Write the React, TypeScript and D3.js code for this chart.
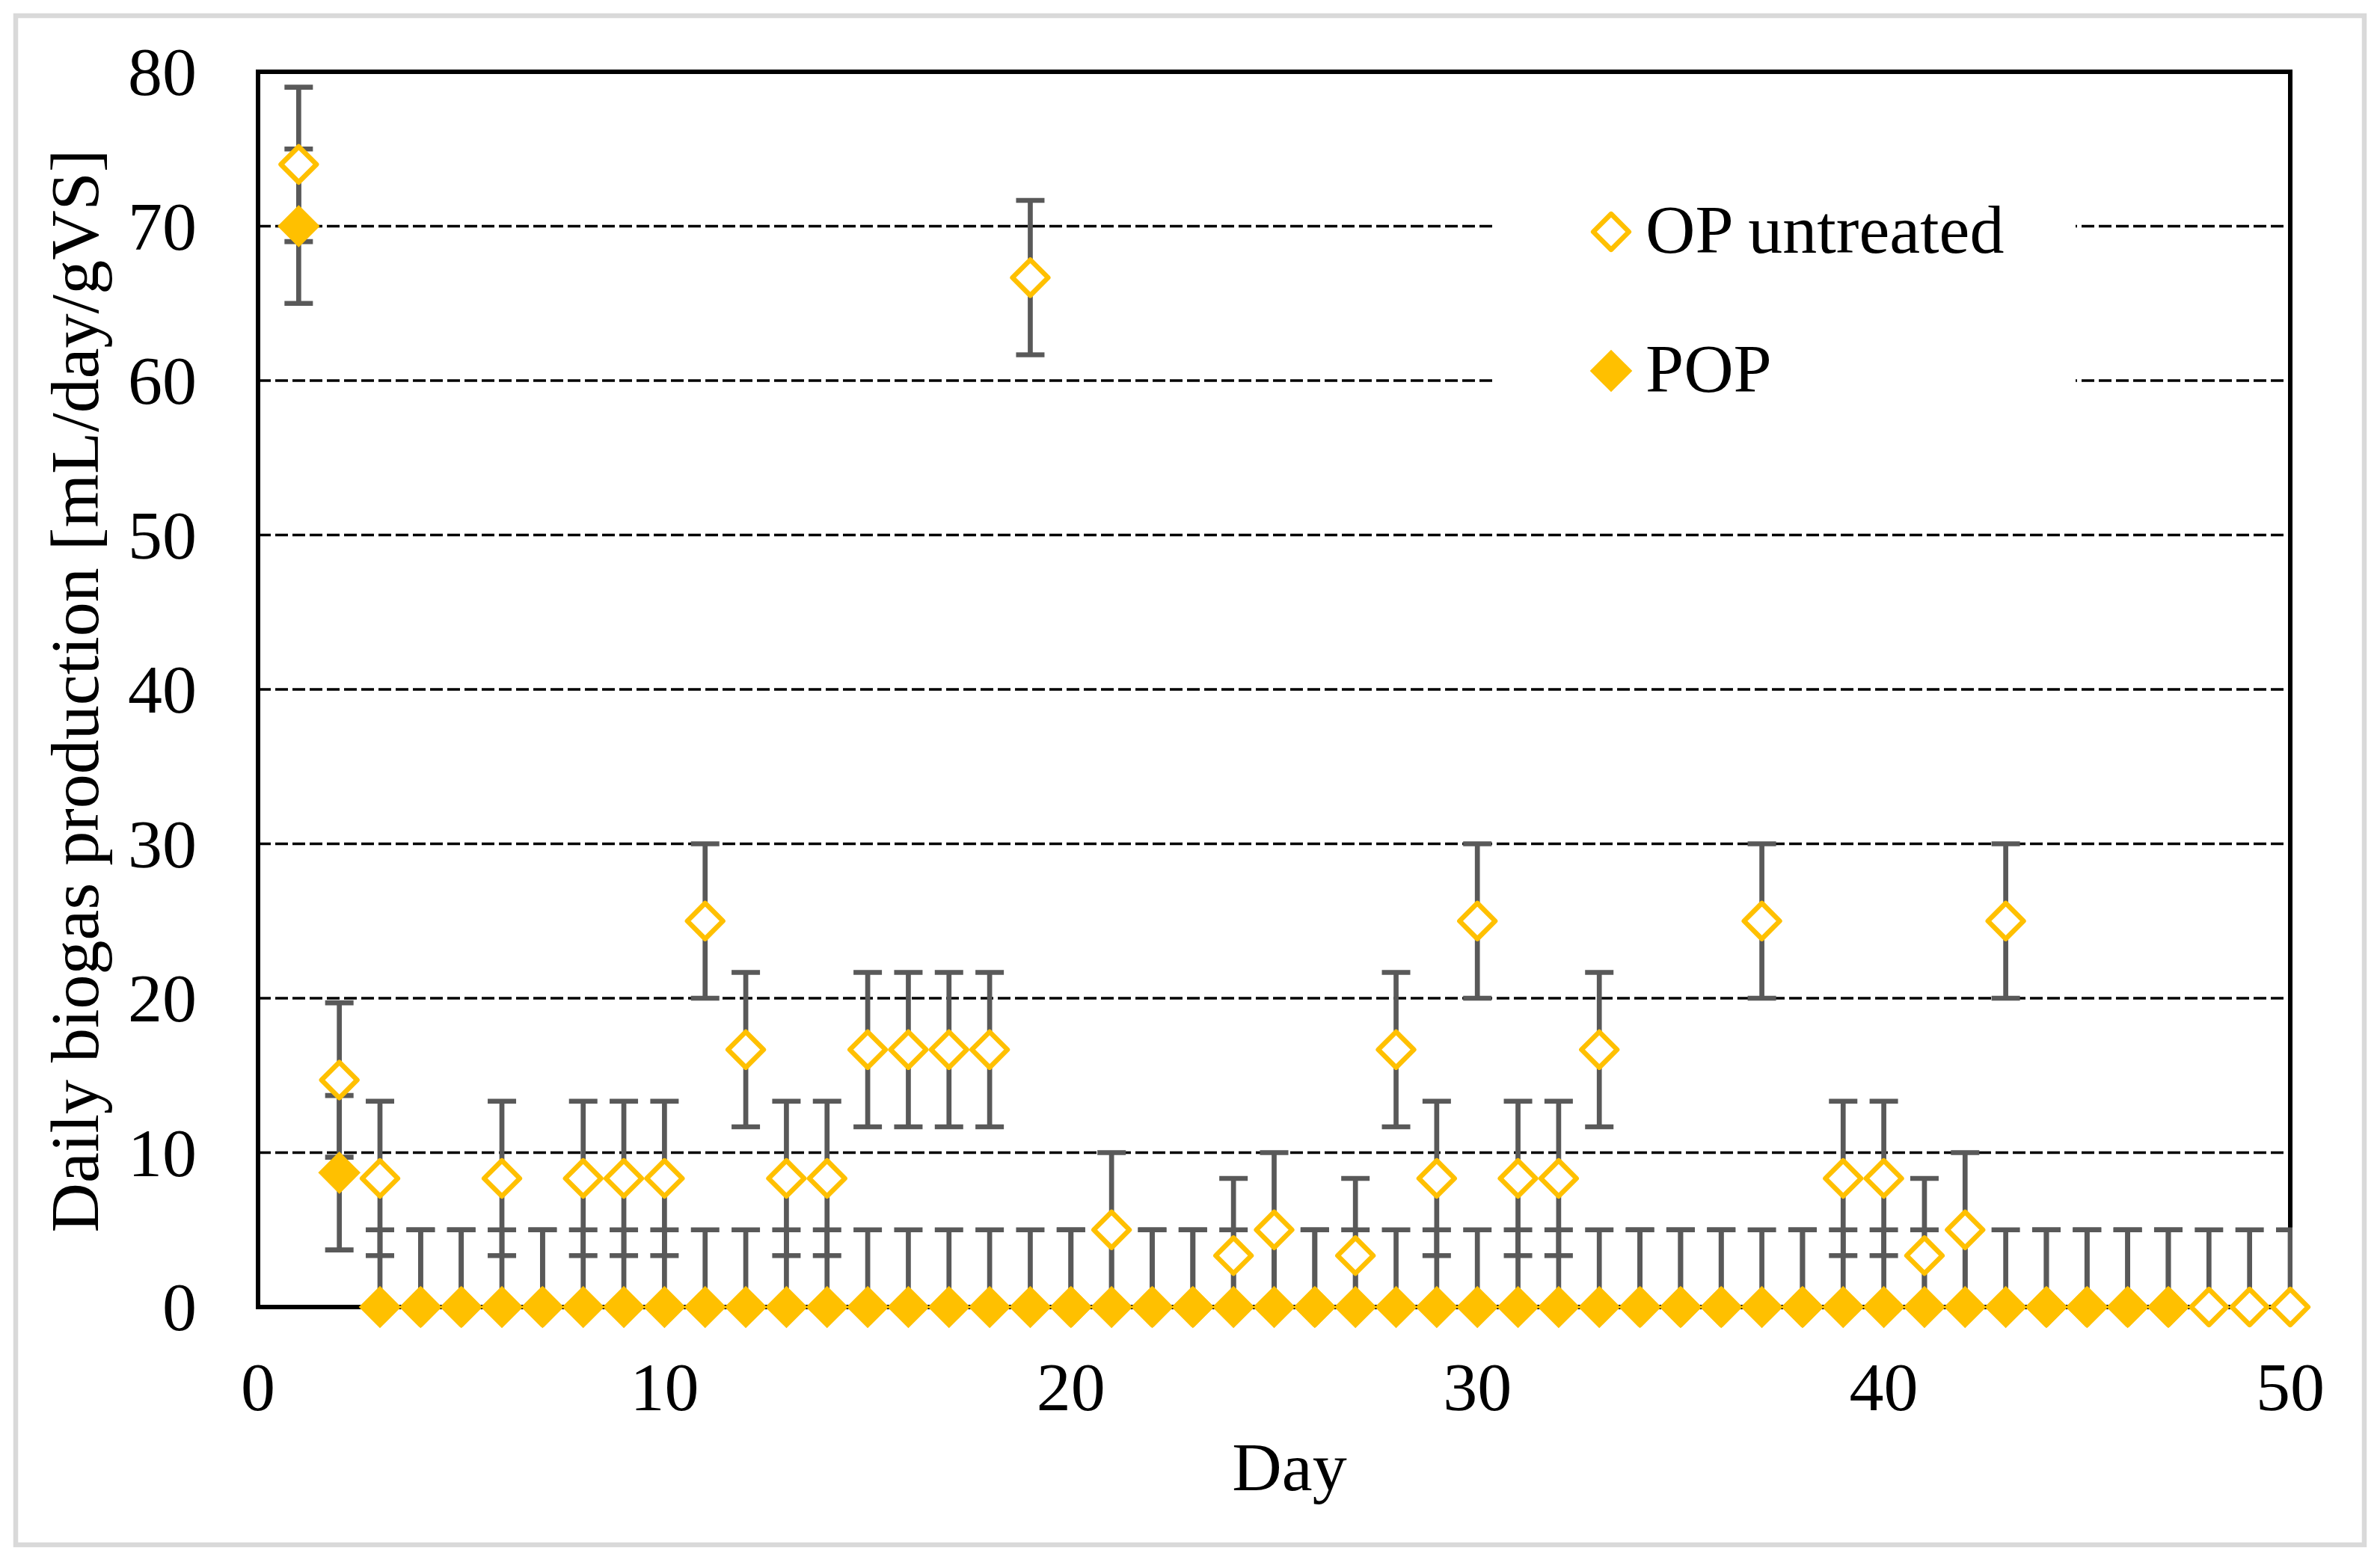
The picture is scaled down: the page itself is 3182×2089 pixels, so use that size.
import { useRef, useEffect } from "react";
import * as d3 from "d3";

// Day numbers for each series
const opDays = [
  1, 2, 3, 4, 5, 6, 7, 8, 9, 10, 11, 12, 13, 14, 15, 16, 17, 18, 19, 20, 21, 22, 23, 24, 25,
  26, 27, 28, 29, 30, 31, 32, 33, 34, 35, 36, 37, 38, 39, 40, 41, 42, 43, 44, 45, 46, 47, 48, 49, 50,
];
const popDays = [
  1, 2, 3, 4, 5, 6, 7, 8, 9, 10, 11, 12, 13, 14, 15, 16, 17, 18, 19, 20, 21, 22, 23, 24, 25,
  26, 27, 28, 29, 30, 31, 32, 33, 34, 35, 36, 37, 38, 39, 40, 41, 42, 43, 44, 45, 46, 47,
];

// OP untreated, mL/day/gVS
const opValues = [
  74, 14.7, 8.33, 0, 0, 8.33, 0, 8.33, 8.33, 8.33, 25, 16.67, 8.33, 8.33, 16.67, 16.67, 16.67, 16.67,
  66.67, 0, 5, 0, 0, 3.33, 5, 0, 3.33, 16.67, 8.33, 25, 8.33, 8.33, 16.67, 0, 0, 0, 25, 0, 8.33, 8.33,
  3.33, 5, 25, 0, 0, 0, 0, 0, 0, 0,
];
const opErrors = [
  5, 5, 5, 5, 5, 5, 5, 5, 5, 5, 5, 5, 5, 5, 5, 5, 5, 5, 5, 5, 5, 5, 5, 5, 5,
  5, 5, 5, 5, 5, 5, 5, 5, 5, 5, 5, 5, 5, 5, 5, 5, 5, 5, 5, 5, 5, 5, 5, 5, 5,
];

// POP
const popValues = [
  70, 8.7, 0, 0, 0, 0, 0, 0, 0, 0, 0, 0, 0, 0, 0, 0, 0, 0, 0, 0, 0, 0, 0, 0, 0,
  0, 0, 0, 0, 0, 0, 0, 0, 0, 0, 0, 0, 0, 0, 0, 0, 0, 0, 0, 0, 0, 0,
];
const popErrors = [
  5, 5, 5, 5, 5, 5, 5, 5, 5, 5, 5, 5, 5, 5, 5, 5, 5, 5, 5, 5, 5, 5, 5, 5, 5,
  5, 5, 5, 5, 5, 5, 5, 5, 5, 5, 5, 5, 5, 5, 5, 5, 5, 5, 5, 5, 5, 5,
];

const yTicks = [0, 10, 20, 30, 40, 50, 60, 70, 80];
const xTicks = [0, 10, 20, 30, 40, 50];
const legendLabels = ["OP untreated", "POP"];

const W = 3182;
const H = 2089;
const PLOT = { left: 345, right: 3062, top: 96, bottom: 1748 };
const FONT = '"Liberation Serif", "Times New Roman", serif';
const FONT_SIZE = 92;
const YELLOW = "#FFC000";
const BAR = "#595959";

function diamond(cx: number, cy: number, r: number): string {
  return `M${cx},${cy - r}L${cx + r},${cy}L${cx},${cy + r}L${cx - r},${cy}Z`;
}

interface Pt {
  day: number;
  v: number;
  e: number;
}

export default function App() {
  const svgRef = useRef<SVGSVGElement>(null);

  useEffect(() => {
    const svg = d3.select(svgRef.current);
    svg.selectAll("*").remove();

    const x = d3.scaleLinear().domain([0, 50]).range([PLOT.left, PLOT.right]);
    const y = d3.scaleLinear().domain([0, 80]).range([PLOT.bottom, PLOT.top]);

    const op: Pt[] = opDays.map((d, i) => ({ day: d, v: opValues[i], e: opErrors[i] }));
    const pop: Pt[] = popDays.map((d, i) => ({ day: d, v: popValues[i], e: popErrors[i] }));

    svg.append("rect").attr("width", W).attr("height", H).attr("fill", "#fff");

    // outer chart border
    svg
      .append("rect")
      .attr("x", 21)
      .attr("y", 21)
      .attr("width", 3140)
      .attr("height", 2045)
      .attr("fill", "none")
      .attr("stroke", "#d9d9d9")
      .attr("stroke-width", 6.5);

    svg
      .append("defs")
      .append("clipPath")
      .attr("id", "plot-clip")
      .append("rect")
      .attr("x", PLOT.left - 3)
      .attr("y", PLOT.top - 3)
      .attr("width", PLOT.right - PLOT.left + 6)
      .attr("height", PLOT.bottom - PLOT.top + 3);

    // gridlines
    svg
      .append("g")
      .selectAll("line")
      .data(yTicks.filter((t) => t > 0 && t < 80))
      .enter()
      .append("line")
      .attr("x1", PLOT.left)
      .attr("x2", PLOT.right)
      .attr("y1", (d) => y(d))
      .attr("y2", (d) => y(d))
      .attr("stroke", "#000")
      .attr("stroke-width", 3.7)
      .attr("stroke-dasharray", "17,6");

    // legend background hides the gridlines behind it
    svg
      .append("rect")
      .attr("x", 2001)
      .attr("y", 225)
      .attr("width", 774)
      .attr("height", 355)
      .attr("fill", "#fff");

    // plot frame
    svg
      .append("rect")
      .attr("x", PLOT.left)
      .attr("y", PLOT.top)
      .attr("width", PLOT.right - PLOT.left)
      .attr("height", PLOT.bottom - PLOT.top)
      .attr("fill", "none")
      .attr("stroke", "#000")
      .attr("stroke-width", 6);

    // y tick labels
    svg
      .append("g")
      .selectAll("text")
      .data(yTicks)
      .enter()
      .append("text")
      .attr("x", 263)
      .attr("y", (d) => y(d) + 31)
      .attr("text-anchor", "end")
      .attr("font-family", FONT)
      .attr("font-size", FONT_SIZE)
      .attr("fill", "#000")
      .text((d) => String(d));

    // x tick labels
    svg
      .append("g")
      .selectAll("text")
      .data(xTicks)
      .enter()
      .append("text")
      .attr("x", (d) => x(d))
      .attr("y", PLOT.bottom + 138)
      .attr("text-anchor", "middle")
      .attr("font-family", FONT)
      .attr("font-size", FONT_SIZE)
      .attr("fill", "#000")
      .text((d) => String(d));

    // axis titles
    svg
      .append("text")
      .attr("x", 1724)
      .attr("y", 1993)
      .attr("text-anchor", "middle")
      .attr("font-family", FONT)
      .attr("font-size", FONT_SIZE)
      .attr("fill", "#000")
      .text("Day");

    svg
      .append("text")
      .attr("transform", "translate(131,924) rotate(-90)")
      .attr("text-anchor", "middle")
      .attr("font-family", FONT)
      .attr("font-size", FONT_SIZE)
      .attr("fill", "#000")
      .text("Daily biogas production [mL/day/gVS]");

    // error bars (clipped to the plot area)
    const bars = svg.append("g").attr("clip-path", "url(#plot-clip)");
    const capHalf = 19;
    [op, pop].forEach((series) => {
      series.forEach((p) => {
        const cx = x(p.day);
        const yTop = y(p.v + p.e);
        const yBot = y(p.v - p.e);
        bars
          .append("line")
          .attr("x1", cx)
          .attr("x2", cx)
          .attr("y1", yTop)
          .attr("y2", yBot)
          .attr("stroke", BAR)
          .attr("stroke-width", 6.7);
        [yTop, yBot].forEach((cy) => {
          bars
            .append("line")
            .attr("x1", cx - capHalf)
            .attr("x2", cx + capHalf)
            .attr("y1", cy)
            .attr("y2", cy)
            .attr("stroke", BAR)
            .attr("stroke-width", 6.7);
        });
      });
    });

    // OP untreated: hollow diamonds
    svg
      .append("g")
      .selectAll("path")
      .data(op)
      .enter()
      .append("path")
      .attr("d", (d) => diamond(x(d.day), y(d.v), 23.8))
      .attr("fill", "#fff")
      .attr("stroke", YELLOW)
      .attr("stroke-width", 6.6)
      .attr("stroke-linejoin", "round");

    // POP: filled diamonds
    svg
      .append("g")
      .selectAll("path")
      .data(pop)
      .enter()
      .append("path")
      .attr("d", (d) => diamond(x(d.day), y(d.v), 28.3))
      .attr("fill", YELLOW);

    // legend
    const legend = svg.append("g");
    const rowY = [310, 496];
    legendLabels.forEach((label, i) => {
      legend
        .append("path")
        .attr("d", diamond(2154, rowY[i], i === 0 ? 23.8 : 28.3))
        .attr("fill", i === 0 ? "#fff" : YELLOW)
        .attr("stroke", i === 0 ? YELLOW : "none")
        .attr("stroke-width", 6.6)
        .attr("stroke-linejoin", "round");
      legend
        .append("text")
        .attr("x", 2200)
        .attr("y", rowY[i] + 28)
        .attr("font-family", FONT)
        .attr("font-size", FONT_SIZE)
        .attr("fill", "#000")
        .text(label);
    });
  }, []);

  return (
    <svg
      ref={svgRef}
      width={W}
      height={H}
      style={{ position: "absolute", left: 0, top: 0, display: "block" }}
    />
  );
}
